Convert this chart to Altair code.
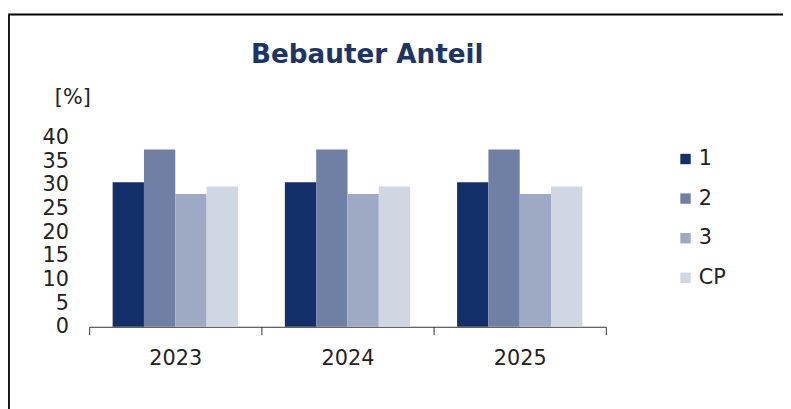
import altair as alt
import pandas as pd

years = ["2023", "2024", "2025"]
series = ["1", "2", "3", "CP"]
values = {
    "2023": [30.6, 37.5, 28.1, 29.7],
    "2024": [30.6, 37.5, 28.1, 29.7],
    "2025": [30.6, 37.5, 28.1, 29.7],
}
colors = ["#132f6a", "#6f80a4", "#9eaac4", "#d0d7e3"]
title_text = "Bebauter Anteil"
unit_text = "[%]"

rows = []
for y in years:
    for s, v in zip(series, values[y]):
        rows.append({"Jahr": y, "Serie": s, "Wert": v})
df = pd.DataFrame(rows)

FONT = "DejaVu Sans"

bars = alt.Chart(df).mark_bar().encode(
    x=alt.X("Jahr:N", sort=years,
            scale=alt.Scale(paddingInner=0, paddingOuter=0),
            axis=alt.Axis(title=None, labelAngle=0, labelFont=FONT, labelFontSize=21,
                          labelColor="#222222", domainColor="#333333", tickColor="#333333",
                          tickBand="extent", tickSize=8, labelPadding=13, domainWidth=1)),
    xOffset=alt.XOffset("Serie:N", sort=series,
                        scale=alt.Scale(paddingOuter=0.75, paddingInner=0)),
    y=alt.Y("Wert:Q", scale=alt.Scale(domain=[0, 40], nice=False),
            axis=alt.Axis(values=list(range(0, 45, 5)), grid=False, domain=False, ticks=False,
                          labelFont=FONT, labelFontSize=21, labelColor="#222222", labelPadding=21,
                          title=unit_text, titleAngle=0, titleX=-17, titleY=-41,
                          titleAlign="center", titleBaseline="middle", titleFont=FONT,
                          titleFontSize=21, titleFontWeight="normal", titleColor="#222222")),
    color=alt.Color("Serie:N", sort=series, scale=alt.Scale(domain=series, range=colors),
                    legend=alt.Legend(title=None, orient="none", legendX=592, legendY=11,
                                      symbolType="square", symbolSize=110, symbolStrokeWidth=0,
                                      labelFont=FONT, labelFontSize=21, labelColor="#222222",
                                      rowPadding=18, labelOffset=3)),
)

one = pd.DataFrame({"k": [0]})
title = alt.Chart(one).mark_text(text=title_text, font=FONT, fontSize=26.5, fontWeight="bold",
                                 color="#1b3567", align="center", baseline="alphabetic").encode(
    x=alt.value(281), y=alt.value(-76))

frame = alt.Chart(one).mark_rect(fill="transparent", stroke="black", strokeWidth=1.8).encode(
    x=alt.value(-81), x2=alt.value(1000), y=alt.value(-124.5), y2=alt.value(1000))

chart = alt.layer(bars, title, frame).properties(
    width=522, height=191,
    autosize=alt.AutoSizeParams(type="none"),
    padding={"left": 82, "top": 129, "right": 179, "bottom": 81},
).configure(background="white").configure_view(strokeWidth=0, stroke=None)

chart.save("out.html", embed_options={"renderer": "svg", "actions": False})
